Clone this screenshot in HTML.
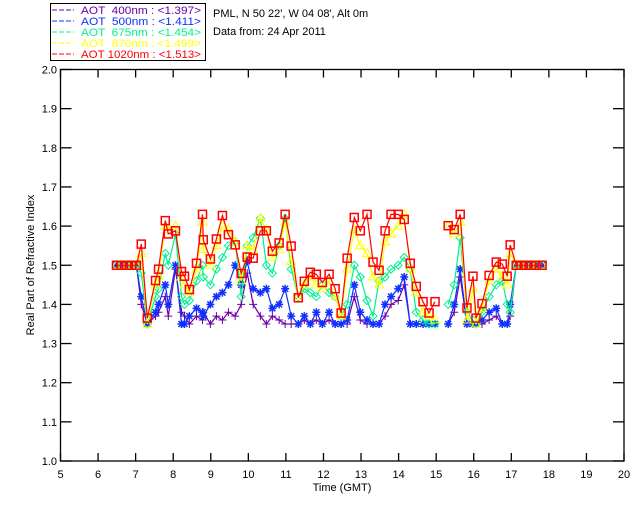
<!DOCTYPE html>
<html><head><meta charset="utf-8"><style>
body{margin:0;background:#fff;width:640px;height:512px;overflow:hidden}
svg{display:block;font-family:"Liberation Sans",sans-serif}
</style></head><body>
<svg id="c" width="640" height="512"></svg>
<script>
const times=[6.49,6.62,6.76,6.89,7.02,7.15,7.31,7.53,7.61,7.79,7.87,8.06,8.22,8.30,8.43,8.62,8.78,8.80,8.99,9.15,9.31,9.47,9.65,9.81,9.97,10.13,10.32,10.48,10.64,10.82,10.98,11.14,11.33,11.49,11.65,11.81,11.97,12.15,12.31,12.47,12.63,12.82,12.98,13.16,13.32,13.48,13.64,13.80,13.99,14.15,14.31,14.47,14.65,14.81,14.97,15.15,15.32,15.48,15.64,15.82,15.98,16.06,16.22,16.41,16.60,16.76,16.89,16.97,17.13,17.26,17.39,17.53,17.66,17.82];
const red=[1.5,1.5,1.5,1.5,1.5,1.554,1.365,1.461,1.490,1.614,1.580,1.588,1.484,1.472,1.438,1.505,1.630,1.565,1.516,1.567,1.627,1.578,1.552,1.479,1.521,1.518,1.588,1.588,1.536,1.557,1.630,1.549,1.417,1.459,1.482,1.477,1.456,1.477,1.440,1.378,1.518,1.622,1.588,1.630,1.508,1.487,1.588,1.630,1.630,1.617,1.505,1.446,1.407,1.378,1.407,null,1.601,1.591,1.630,1.391,1.472,1.365,1.402,1.474,1.508,1.503,1.472,1.552,1.5,1.5,1.5,1.5,1.5,1.5];
const yellow=[1.5,1.5,1.5,1.5,1.5,1.53,1.35,1.45,1.47,1.60,1.59,1.60,1.47,1.45,1.43,1.49,1.61,1.54,1.50,1.55,1.60,1.59,1.56,1.46,1.55,1.54,1.62,1.59,1.52,1.54,1.61,1.51,1.42,1.45,1.47,1.45,1.44,1.46,1.42,1.37,1.49,1.59,1.55,1.53,1.47,1.45,1.56,1.58,1.60,1.63,1.49,1.43,1.38,1.37,1.36,null,1.60,1.58,1.61,1.36,1.44,1.35,1.39,1.46,1.49,1.47,1.45,1.53,1.5,1.5,1.5,1.5,1.5,1.5];
const green=[1.5,1.5,1.5,1.5,1.5,1.48,1.35,1.42,1.44,1.53,1.50,1.58,1.42,1.40,1.41,1.46,1.50,1.47,1.45,1.49,1.52,1.55,1.56,1.42,1.55,1.57,1.62,1.50,1.48,1.55,1.62,1.49,1.42,1.44,1.43,1.42,1.45,1.43,1.42,1.37,1.40,1.50,1.47,1.41,1.37,1.46,1.47,1.49,1.50,1.52,1.49,1.38,1.36,1.35,1.35,null,1.40,1.45,1.57,1.38,1.36,1.35,1.38,1.42,1.45,1.46,1.40,1.38,1.5,1.5,1.5,1.5,1.5,1.5];
const blue=[1.5,1.5,1.5,1.5,1.5,1.42,1.35,1.38,1.40,1.45,1.40,1.50,1.35,1.35,1.37,1.39,1.38,1.37,1.40,1.42,1.43,1.45,1.50,1.45,1.51,1.44,1.43,1.44,1.39,1.40,1.44,1.37,1.35,1.37,1.35,1.38,1.35,1.38,1.35,1.35,1.36,1.45,1.38,1.36,1.35,1.35,1.40,1.42,1.44,1.47,1.35,1.35,1.35,1.35,1.35,null,1.35,1.40,1.49,1.35,1.35,1.35,1.36,1.38,1.39,1.35,1.35,1.40,1.5,1.5,1.5,1.5,1.5,1.5];
const purple=[1.5,1.5,1.5,1.5,1.5,1.40,1.35,1.37,1.38,1.42,1.37,1.49,1.38,1.37,1.35,1.37,1.36,1.38,1.35,1.37,1.36,1.38,1.37,1.40,1.48,1.40,1.37,1.35,1.37,1.36,1.35,1.35,1.35,1.36,1.35,1.36,1.35,1.36,1.35,1.35,1.35,1.42,1.36,1.35,1.35,1.35,1.37,1.40,1.41,1.45,1.35,1.35,1.35,1.35,1.35,null,1.35,1.38,1.47,1.35,1.35,1.35,1.35,1.36,1.37,1.35,1.35,1.37,1.5,1.5,1.5,1.5,1.5,1.5];
const xTicks=[5,6,7,8,9,10,11,12,13,14,15,16,17,18,19,20];
const yTicks=["1.0","1.1","1.2","1.3","1.4","1.5","1.6","1.7","1.8","1.9","2.0"];
const legendLabels=["AOT  400nm : <1.397>","AOT  500nm : <1.411>","AOT  675nm : <1.454>","AOT  870nm : <1.499>","AOT 1020nm : <1.513>"];

const NS="http://www.w3.org/2000/svg",svg=document.getElementById('c');
const X0=60.5,X1=624,Y0=461,Y1=69.5;
const xs=t=>X0+(t-5)/15*(X1-X0), ys=v=>Y0-(v-1)*(Y0-Y1);
function mk(tag,at,par){const e=document.createElementNS(NS,tag);for(const k in at)e.setAttribute(k,at[k]);(par||svg).appendChild(e);return e;}
const ax=mk('g',{stroke:'#000','stroke-width':1.3,fill:'none'});


mk('rect',{x:X0,y:Y1,width:X1-X0,height:Y0-Y1},ax);
xTicks.forEach(t=>{const x=xs(t);
 mk('line',{x1:x,x2:x,y1:Y0,y2:Y0-8},ax);mk('line',{x1:x,x2:x,y1:Y1,y2:Y1+8},ax);
 const tx=mk('text',{x:x,y:478,'font-size':11,'text-anchor':'middle'});tx.textContent=t;
 
 });
yTicks.forEach(l=>{const y=ys(parseFloat(l));
 mk('line',{x1:X0,x2:X0+11,y1:y,y2:y},ax);mk('line',{x1:X1,x2:X1-11,y1:y,y2:y},ax);
 const tx=mk('text',{x:57,y:y+4,'font-size':11,'text-anchor':'end'});tx.textContent=l;
 
 });
const xt=mk('text',{x:342,y:491,'font-size':11,'text-anchor':'middle'});xt.textContent="Time (GMT)";


const yt=mk('text',{x:0,y:0,'font-size':11,'text-anchor':'middle',transform:'translate(34,265) rotate(-90)'});yt.textContent="Real Part of Refractive Index";



function marker(g,type,x,y,c){
 if(type==='plus'){mk('path',{d:`M${x-4},${y}h8M${x},${y-4}v8`,stroke:c,fill:'none'},g);}
 else if(type==='star'){mk('path',{d:`M${x-4},${y}h8M${x},${y-4}v8M${x-3},${y-3}l6,6M${x-3},${y+3}l6,-6`,stroke:c,'stroke-width':1.5,fill:'none'},g);}
 else if(type==='diamond'){mk('path',{d:`M${x},${y-4}l4,4l-4,4l-4,-4z`,stroke:c,fill:'none'},g);}
 else if(type==='tri'){mk('path',{d:`M${x},${y-5}l4.5,8h-9z`,stroke:c,fill:'none'},g);}
 else {mk('rect',{x:x-4,y:y-4,width:8,height:8,stroke:c,'stroke-width':1.5,fill:'none'},g);}
}
const series=[[purple,'#6a00a8','plus','series-400nm'],[blue,'#1030ff','star','series-500nm'],[green,'#00f090','diamond','series-675nm'],[yellow,'#ffff00','tri','series-870nm'],[red,'#ff0000','sq','series-1020nm']];
series.forEach(([vals,c,m,n])=>{
 const g=mk('g',{});
 
 
 let d='',pen=false;
 vals.forEach((v,i)=>{if(v===null){pen=false;return;}d+=(pen?'L':'M')+xs(times[i]).toFixed(1)+','+ys(v).toFixed(1);pen=true;});
 mk('path',{d:d,stroke:c,fill:'none','stroke-width':1.2},g);
 vals.forEach((v,i)=>{if(v!==null)marker(g,m,xs(times[i]),ys(v),c);});
});
// legend
const lg=mk('g',{});


mk('rect',{x:50.5,y:3.5,width:155,height:57,fill:'#fff',stroke:'#000','stroke-width':1},lg);
legendLabels.forEach((l,i)=>{const c=series[i][1],y=10+i*11;
 mk('line',{x1:52,x2:74,y1:y,y2:y,stroke:c,'stroke-dasharray':'5,2'},lg);
 const t=mk('text',{x:81,y:y+4,'font-size':11,fill:c,textLength:120,lengthAdjust:'spacingAndGlyphs'},lg);t.textContent=l;t.style.whiteSpace='pre';
 
 });
const i1=mk('text',{x:213,y:17,'font-size':11});i1.textContent="PML, N 50 22', W 04 08', Alt 0m";


const i2=mk('text',{x:213,y:35,'font-size':11});i2.textContent="Data from: 24 Apr 2011";


</script>
</body></html>
